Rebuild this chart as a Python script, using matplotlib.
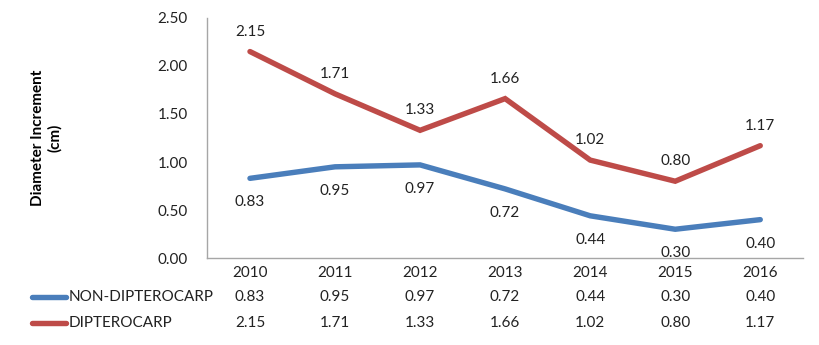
import numpy as np
import matplotlib.pyplot as plt
from matplotlib.lines import Line2D
import matplotlib.transforms as mtransforms

plt.rcParams['font.family'] = ['Lato', 'DejaVu Sans']

years = ['2010', '2011', '2012', '2013', '2014', '2015', '2016']
non_dipterocarp = [0.83, 0.95, 0.97, 0.72, 0.44, 0.30, 0.40]
dipterocarp = [2.15, 1.71, 1.33, 1.66, 1.02, 0.80, 1.17]
series_names = ['NON-DIPTEROCARP', 'DIPTEROCARP']
colors = ['#4A7EBB', '#BE4B48']

fig = plt.figure(figsize=(8.2, 3.45), dpi=100)
ax = fig.add_axes([0.253, 0.252, 0.726, 0.696])

x = np.arange(len(years))
series = [non_dipterocarp, dipterocarp]
for vals, col in zip(series, colors):
    ax.plot(x, vals, color=col, lw=3.9, solid_capstyle='round', solid_joinstyle='miter')

fs = 11
# data labels: blue below, red above
for xi, v in zip(x, non_dipterocarp):
    ax.annotate(f'{v:.2f}', (xi, v), xytext=(0, -24), textcoords='offset pixels',
                ha='center', va='center', fontsize=fs, color='#222222')
for xi, v in zip(x, dipterocarp):
    ax.annotate(f'{v:.2f}', (xi, v), xytext=(0, 20), textcoords='offset pixels',
                ha='center', va='center', fontsize=fs, color='#222222')

ax.set_xlim(-0.5, len(years) - 0.5)
ax.set_ylim(0, 2.5)
ax.set_yticks(np.arange(0, 2.51, 0.5))
ax.set_yticklabels([f'{t:.2f}' for t in np.arange(0, 2.51, 0.5)], fontsize=fs, color='#222222')
ax.tick_params(axis='y', length=0, pad=14)
ax.set_xticks([])
for s in ['top', 'right']:
    ax.spines[s].set_visible(False)
for s in ['left', 'bottom']:
    ax.spines[s].set_color('#A6A6A6')
    ax.spines[s].set_linewidth(1.0)

ax.set_ylabel('Diameter Increment\n(cm)', fontsize=fs, fontweight='bold',
              linespacing=1.2, labelpad=0)
ax.yaxis.set_label_coords(-0.245, 0.5)

# data table below the axis
trans = mtransforms.blended_transform_factory(ax.transData, fig.transFigure)
row_y = [1 - 273 / 345, 1 - 297 / 345, 1 - 323 / 345]
for xi, yr in zip(x, years):
    ax.text(xi, row_y[0], yr, transform=trans, ha='center', va='center',
            fontsize=fs, color='#222222')
for r, (name, vals, col) in enumerate(zip(series_names, series, colors)):
    yy = row_y[r + 1]
    for xi, v in zip(x, vals):
        ax.text(xi, yy, f'{v:.2f}', transform=trans, ha='center', va='center',
                fontsize=fs, color='#222222')
    fig.add_artist(Line2D([32 / 820, 66 / 820], [yy, yy], color=col, lw=3.9,
                          solid_capstyle='round', transform=fig.transFigure))
    fig.text(69 / 820, yy, name, ha='left', va='center', fontsize=fs, color='#222222')

fig.savefig('out.png', dpi=100)
